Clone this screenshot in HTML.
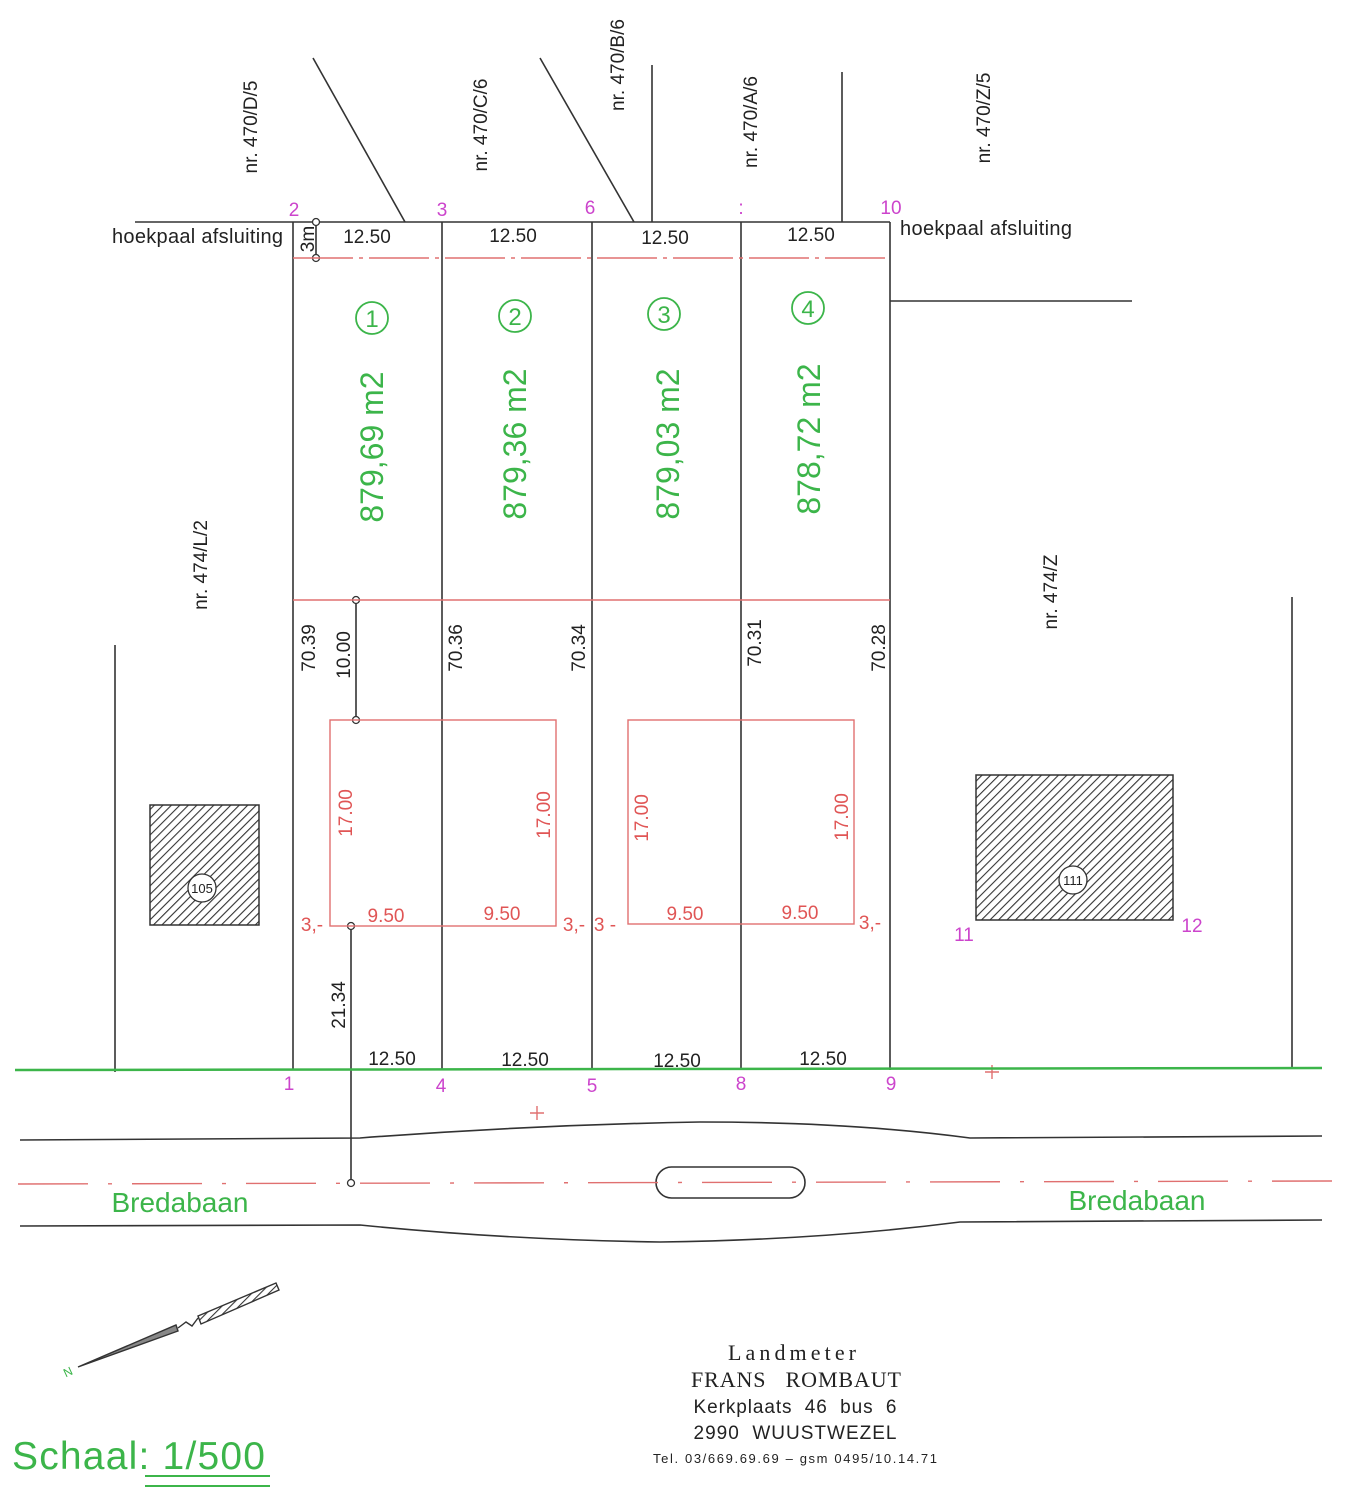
<!DOCTYPE html>
<html><head><meta charset="utf-8"><style>
html,body{margin:0;padding:0;background:#fff;}
svg{display:block;}
</style></head><body>
<svg width="1346" height="1500" viewBox="0 0 1346 1500" xmlns="http://www.w3.org/2000/svg" font-family="Liberation Sans, sans-serif">
<defs>
<pattern id="h" width="6" height="6" patternUnits="userSpaceOnUse" patternTransform="rotate(45)">
<rect width="6" height="6" fill="#fff"/><line x1="0" y1="0" x2="0" y2="6" stroke="#333" stroke-width="2.2"/>
</pattern>
</defs>
<g stroke="#333" stroke-width="1.6" fill="none">
<line x1="135" y1="222" x2="890" y2="222"/>
<line x1="293" y1="222" x2="293" y2="1070"/>
<line x1="442" y1="222" x2="442" y2="1070"/>
<line x1="592" y1="222" x2="592" y2="1070"/>
<line x1="741" y1="222" x2="741" y2="1070"/>
<line x1="890" y1="222" x2="890" y2="1070"/>
<line x1="313" y1="58" x2="405" y2="222"/>
<line x1="540" y1="58" x2="634" y2="222"/>
<line x1="652" y1="65" x2="652" y2="222"/>
<line x1="842" y1="72" x2="842" y2="222"/>
<line x1="890" y1="301" x2="1132" y2="301"/>
<line x1="115" y1="645" x2="115" y2="1072"/>
<line x1="1292" y1="597" x2="1292" y2="1067"/>
<line x1="316" y1="222" x2="316" y2="258"/>
<line x1="356" y1="600" x2="356" y2="720"/>
<line x1="351" y1="926" x2="351" y2="1183"/>
<path d="M20 1140 L360 1138 Q530 1125 700 1122 Q850 1122 970 1138 L1322 1136"/>
<path d="M20 1226 L360 1225 Q510 1240 660 1242 Q820 1240 960 1222 L1322 1220"/>
<rect x="656" y="1167" width="149" height="31" rx="15.5"/>
</g>
<g fill="#fff" stroke="#333" stroke-width="1.3">
<circle cx="316" cy="222" r="3.5"/><circle cx="316" cy="258" r="3.5"/>
<circle cx="356" cy="600" r="3.5"/><circle cx="356" cy="720" r="3.5"/>
<circle cx="351" cy="926" r="3.5"/><circle cx="351" cy="1183" r="3.5"/>
</g>
<g stroke="#e07070" stroke-width="1.4" fill="none">
<line x1="293" y1="258" x2="890" y2="258" stroke-dasharray="60 6 4 6"/>
<line x1="293" y1="600" x2="890" y2="600"/>
<rect x="330" y="720" width="226" height="206"/>
<rect x="628" y="720" width="226" height="204"/>
<line x1="18" y1="1184" x2="1332" y2="1181" stroke-dasharray="70 20 4 20"/>
<path d="M530 1113 h14 M537 1106 v14 M985 1072 h14 M992 1065 v14"/>
</g>
<line x1="15" y1="1070" x2="1322" y2="1068" stroke="#3cb54a" stroke-width="2.5"/>
<rect x="150" y="805" width="109" height="120" fill="url(#h)" stroke="#333" stroke-width="1.5"/>
<rect x="976" y="775" width="197" height="145" fill="url(#h)" stroke="#333" stroke-width="1.5"/>
<g fill="#fff" stroke="#333" stroke-width="1.3"><circle cx="202" cy="888" r="14"/><circle cx="1073" cy="880" r="14"/></g>
<g font-size="13" text-anchor="middle" fill="#222"><text x="202" y="893">105</text><text x="1073" y="885">111</text></g>
<g fill="#cc44cc" font-size="19" text-anchor="middle">
<text x="294" y="216">2</text><text x="442" y="216">3</text><text x="590" y="214">6</text><text x="741" y="214">:</text><text x="891" y="214">10</text>
<text x="289" y="1090">1</text><text x="441" y="1092">4</text><text x="592" y="1092">5</text><text x="741" y="1090">8</text><text x="891" y="1090">9</text>
<text x="964" y="941">11</text><text x="1192" y="932">12</text>
</g>
<g fill="#222" font-size="20">
<text x="112" y="243" textLength="171">hoekpaal afsluiting</text>
<text x="900" y="235" textLength="172">hoekpaal afsluiting</text>
</g>
<g fill="#222" font-size="19" text-anchor="middle">
<text x="367" y="243">12.50</text><text x="513" y="242">12.50</text><text x="665" y="244">12.50</text><text x="811" y="241">12.50</text>
<text x="392" y="1065">12.50</text><text x="525" y="1066">12.50</text><text x="677" y="1067">12.50</text><text x="823" y="1065">12.50</text>
</g>
<g fill="#222" font-size="19" text-anchor="middle">
<text transform="translate(314,239) rotate(-90)">3m</text>
<text transform="translate(315,648) rotate(-90)">70.39</text>
<text transform="translate(350,655) rotate(-90)">10.00</text>
<text transform="translate(462,648) rotate(-90)">70.36</text>
<text transform="translate(585,648) rotate(-90)">70.34</text>
<text transform="translate(761,643) rotate(-90)">70.31</text>
<text transform="translate(885,648) rotate(-90)">70.28</text>
<text transform="translate(345,1005) rotate(-90)">21.34</text>
<text transform="translate(257,127) rotate(-90)">nr. 470/D/5</text>
<text transform="translate(487,125) rotate(-90)">nr. 470/C/6</text>
<text transform="translate(624,65) rotate(-90)">nr. 470/B/6</text>
<text transform="translate(757,122) rotate(-90)">nr. 470/A/6</text>
<text transform="translate(990,118) rotate(-90)">nr. 470/Z/5</text>
<text transform="translate(207,565) rotate(-90)">nr. 474/L/2</text>
<text transform="translate(1057,592) rotate(-90)">nr. 474/Z</text>
</g>
<g fill="#e05555" font-size="19" text-anchor="middle">
<text transform="translate(352,813) rotate(-90)">17.00</text>
<text transform="translate(550,815) rotate(-90)">17.00</text>
<text transform="translate(648,818) rotate(-90)">17.00</text>
<text transform="translate(848,817) rotate(-90)">17.00</text>
<text x="386" y="922">9.50</text><text x="502" y="920">9.50</text><text x="685" y="920">9.50</text><text x="800" y="919">9.50</text>
<text x="312" y="931">3,-</text><text x="574" y="931">3,-</text><text x="605" y="931">3 -</text><text x="870" y="929">3,-</text>
</g>
<g stroke="#3cb54a" stroke-width="1.8" fill="none">
<circle cx="372" cy="318" r="16"/><circle cx="515" cy="316" r="16"/><circle cx="664" cy="314" r="16"/><circle cx="808" cy="308" r="16"/>
</g>
<g fill="#3cb54a" text-anchor="middle">
<g font-size="24"><text x="372" y="327">1</text><text x="515" y="325">2</text><text x="664" y="323">3</text><text x="808" y="317">4</text></g>
<g font-size="32">
<text transform="translate(383,447) rotate(-90)">879,69 m2</text>
<text transform="translate(526,444) rotate(-90)">879,36 m2</text>
<text transform="translate(679,444) rotate(-90)">879,03 m2</text>
<text transform="translate(820,439) rotate(-90)">878,72 m2</text>
</g>
<g font-size="28"><text x="180" y="1212">Bredabaan</text><text x="1137" y="1210">Bredabaan</text></g>
<text x="68" y="1376" font-size="12" transform="rotate(-25 68 1372)">N</text>
</g>
<text x="12" y="1469" font-size="39" fill="#3cb54a" textLength="253">Schaal: 1/500</text>
<line x1="145" y1="1476" x2="270" y2="1476" stroke="#3cb54a" stroke-width="2"/>
<line x1="145" y1="1486" x2="270" y2="1486" stroke="#3cb54a" stroke-width="2"/>
<g stroke="#333" stroke-width="1.4" fill="none">
<path d="M78 1367 L176 1325 L178 1331 Z" fill="#888"/>
<path d="M198 1316 L276 1283 L279 1290 L201 1324 Z" fill="url(#h)"/>
<path d="M178 1328 L186 1322 L192 1326 L198 1318"/>
</g>
<g fill="#222" text-anchor="middle">
<text x="792" y="1360" style="font-family:'Liberation Serif',serif;font-size:22px" textLength="128">Landmeter</text>
<text x="796" y="1387" style="font-family:'Liberation Serif',serif;font-size:22px" textLength="210" xml:space="preserve">FRANS   ROMBAUT</text>
<text x="795" y="1413" style="font-family:'Liberation Sans',sans-serif;font-size:19px" textLength="203" xml:space="preserve">Kerkplaats  46  bus  6</text>
<text x="795" y="1439" style="font-family:'Liberation Sans',sans-serif;font-size:19px" textLength="203" xml:space="preserve">2990  WUUSTWEZEL</text>
<text x="795" y="1463" style="font-family:'Liberation Sans',sans-serif;font-size:13px" textLength="284">Tel. 03/669.69.69 – gsm 0495/10.14.71</text>
</g>
</svg>
</body></html>
